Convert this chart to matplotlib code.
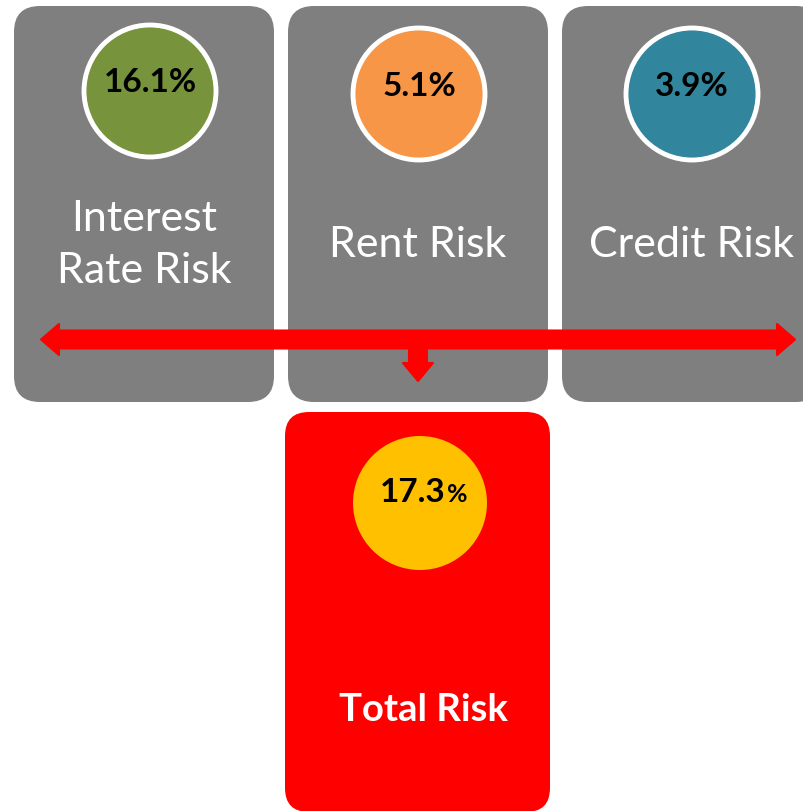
import matplotlib

matplotlib.use("Agg")
import matplotlib.pyplot as plt
from matplotlib.patches import Circle, FancyBboxPatch, Polygon

# risk components
labels = ["Interest\nRate Risk", "Rent Risk", "Credit Risk"]
values = ["16.1%", "5.1%", "3.9%"]
colors = ["#77933C", "#F79646", "#31859C"]
total_label = "Total Risk"
total_value = "17.3"

GREY = "#7F7F7F"
RED = "#FF0000"
FONT = "Lato"

W, H = 804, 811
fig = plt.figure(figsize=(W / 100, H / 100), dpi=100)
ax = fig.add_axes([0, 0, 1, 1])
ax.set_xlim(0, W)
ax.set_ylim(H, 0)
ax.axis("off")

box_x = [14, 288, 562]
box_w = 260
circle_c = [(150, 91), (419, 94), (692, 94)]
label_y = [245, 245, 245]

for i, (lab, val, col) in enumerate(zip(labels, values, colors)):
    ax.add_patch(FancyBboxPatch((box_x[i], 6), box_w, 396,
                                boxstyle="round,pad=0,rounding_size=26",
                                facecolor=GREY, edgecolor="none"))
    cx, cy = circle_c[i]
    ax.add_patch(Circle((cx, cy), 66, facecolor=col, edgecolor="white", linewidth=3.5))
    ax.text(cx, cy - 8, val, ha="center", va="center", fontsize=24,
            fontweight="bold", color="black", family=FONT)
    ax.text(box_x[i] + box_w / 2, label_y[i], lab,
            ha="center", va="center", fontsize=31, color="white",
            family=FONT, linespacing=1.45)

# total box
ax.add_patch(FancyBboxPatch((285, 412), 265, 400,
                            boxstyle="round,pad=0,rounding_size=24",
                            facecolor=RED, edgecolor="none"))
ax.add_patch(Circle((420, 503), 67, facecolor="#FFC000", edgecolor="none"))
ax.text(446, 492, total_value, ha="right", va="center", fontsize=24,
        fontweight="bold", color="black", family=FONT)
ax.text(447, 494, "%", ha="left", va="center", fontsize=18,
        fontweight="bold", color="black", family=FONT)
ax.text(423, 710, total_label, ha="center", va="center", fontsize=27.5,
        fontweight="bold", color="white", family=FONT)

# double headed arrow with a down branch
yc, hw, hh = 339.5, 9, 15.5
left, right = 41, 795
hl = 18
arrow = [
    (left, yc), (left + hl, yc - hh), (left + hl, yc - hw),
    (right - hl, yc - hw), (right - hl, yc - hh), (right, yc),
    (right - hl, yc + hh), (right - hl, yc + hw),
    (427, yc + hw), (427, 363), (433, 363), (418, 381), (403, 363), (409, 363),
    (409, yc + hw), (left + hl, yc + hw), (left + hl, yc + hh),
]
ax.add_patch(Polygon(arrow, closed=True, facecolor=RED, edgecolor=RED,
                     linewidth=1.5, joinstyle="round"))

fig.savefig("out.png", dpi=100)
